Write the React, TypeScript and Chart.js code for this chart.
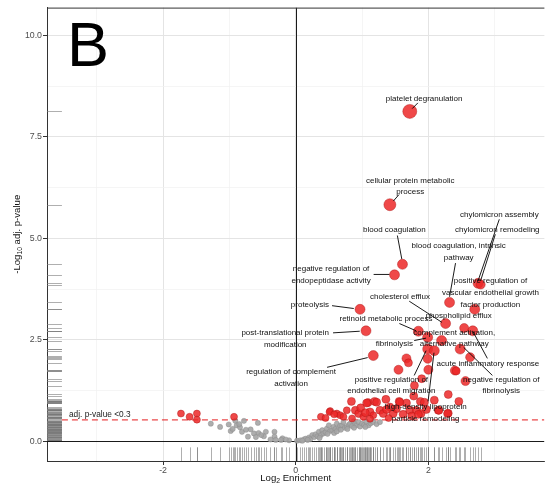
import React, { useEffect, useRef } from "react";
import { Chart, registerables } from "chart.js";

Chart.register(...registerables);

const FONT = "'Liberation Sans', Arial, Helvetica, sans-serif";

// significant GO terms: [log2 enrichment, -log10 adj. p-value, gene count]
const sigPoints: [number, number, number][] = [
  [-1.73, 0.68, 3], [-1.6, 0.6, 3], [-1.49, 0.68, 3], [-1.49, 0.53, 3], [-0.93, 0.6, 3],
  [1.72, 8.13, 10], [1.42, 5.83, 8], [1.61, 4.36, 6], [1.49, 4.1, 6],
  [2.75, 3.89, 6], [2.79, 3.86, 5], [2.32, 3.42, 6], [0.97, 3.25, 6], [2.7, 3.25, 6],
  [2.26, 2.9, 6], [2.54, 2.79, 5], [2.67, 2.72, 6], [1.06, 2.72, 6], [1.85, 2.71, 6],
  [1.99, 2.56, 6], [2.2, 2.48, 6], [2.48, 2.27, 6], [1.99, 2.27, 6], [2.09, 2.23, 6],
  [1.17, 2.11, 6], [2.63, 2.07, 5], [1.67, 2.04, 5], [1.99, 2.03, 5], [1.7, 1.93, 4],
  [1.55, 1.76, 5], [2.0, 1.76, 5], [2.4, 1.74, 5], [2.42, 1.73, 4], [1.9, 1.54, 4],
  [2.56, 1.48, 5], [1.79, 1.37, 4], [2.3, 1.15, 4],
  [0.84, 0.98, 4], [1.09, 0.95, 4], [1.19, 0.98, 4], [1.36, 1.03, 4], [1.78, 1.11, 4],
  [1.56, 0.98, 4], [1.67, 0.94, 4], [1.88, 0.98, 4], [2.46, 0.98, 4], [2.15, 0.76, 4],
  [2.3, 0.69, 4], [0.52, 0.74, 3], [0.38, 0.6, 3], [0.51, 0.72, 3], [0.62, 0.68, 3],
  [0.67, 0.64, 3], [0.9, 0.76, 4], [0.95, 0.68, 4], [1.02, 0.6, 3], [1.07, 0.94, 4],
  [1.12, 0.72, 4], [1.17, 0.64, 3], [1.22, 0.96, 4], [1.27, 0.76, 4], [1.32, 0.68, 4],
  [1.42, 0.84, 4], [1.47, 0.68, 4], [1.57, 0.96, 4], [1.72, 0.76, 4], [1.82, 0.76, 4],
  [1.89, 0.68, 4], [1.94, 0.96, 4], [2.09, 1.01, 4], [2.16, 0.76, 4], [2.29, 0.68, 4],
  [0.77, 0.76, 3], [0.72, 0.6, 3], [0.58, 0.66, 3], [0.45, 0.57, 3], [0.98, 0.82, 4],
  [1.05, 0.7, 4], [1.37, 0.78, 4], [1.52, 0.8, 4], [1.62, 0.66, 4], [1.75, 0.62, 4],
  [1.97, 0.78, 4], [1.4, 0.57, 3], [1.12, 0.55, 3], [0.85, 0.56, 3], [1.85, 0.66, 4],
];

// non-significant GO terms: [log2 enrichment, -log10 adj. p-value]
const nsPoints: [number, number][] = [
  [-1.28, 0.43], [-1.14, 0.35], [-1.01, 0.41], [-0.98, 0.25], [-0.91, 0.5], [-0.89, 0.39],
  [-0.84, 0.34], [-0.78, 0.5], [-0.81, 0.23], [-0.72, 0.11], [-0.68, 0.29], [-0.63, 0.19],
  [-0.57, 0.45], [-0.56, 0.2], [-0.45, 0.23], [-0.48, 0.12], [-0.32, 0.23], [-0.32, 0.11],
  [-0.2, 0.07], [-0.1, 0.02], [0.02, 0.01], [-0.38, 0.04], [-0.3, 0.03], [-0.22, 0.03],
  [-0.15, 0.04], [-0.6, 0.1], [-0.75, 0.28], [-0.95, 0.3], [-0.85, 0.42], [-0.52, 0.15],
  [0.07, 0.02], [0.12, 0.04], [0.15, 0.06], [0.2, 0.09], [0.22, 0.05], [0.25, 0.15],
  [0.28, 0.1], [0.3, 0.17], [0.33, 0.12], [0.35, 0.23], [0.38, 0.15], [0.4, 0.27],
  [0.42, 0.19], [0.45, 0.22], [0.47, 0.31], [0.5, 0.39], [0.52, 0.25], [0.55, 0.27],
  [0.57, 0.35], [0.6, 0.3], [0.62, 0.43], [0.65, 0.31], [0.67, 0.38], [0.7, 0.39],
  [0.72, 0.47], [0.74, 0.33], [0.77, 0.35], [0.8, 0.4], [0.82, 0.43], [0.85, 0.37],
  [0.87, 0.49], [0.9, 0.42], [0.92, 0.39], [0.95, 0.47], [0.97, 0.36], [1.0, 0.43],
  [1.03, 0.4], [1.07, 0.47], [1.1, 0.39], [1.13, 0.44], [1.17, 0.47], [1.22, 0.42],
  [1.27, 0.47], [0.58, 0.2], [0.48, 0.18], [0.36, 0.08], [0.62, 0.24], [0.68, 0.28],
  [0.78, 0.3], [0.88, 0.33], [1.05, 0.35], [0.18, 0.03], [0.1, 0.01],
];

const pThreshold = 0.523; // -log10(0.3)
const thresholdText = "adj. p-value <0.3";
const panelLetter = "B";
const xRange = [-3.75, 3.75];
const yRange = [-0.49, 10.69];

type TermLabel = { text: string[]; x: number; y: number; from?: [number, number]; to?: [number, number] };

const termLabels: TermLabel[] = [
  { text: ["platelet degranulation"], x: 1.936, y: 8.44, from: [1.842, 8.34], to: [1.757, 8.2] },
  { text: ["cellular protein metabolic", "process"], x: 1.727, y: 6.43, from: [1.558, 6.08], to: [1.473, 5.92] },
  { text: ["blood coagulation"], x: 1.488, y: 5.2, from: [1.533, 5.07], to: [1.6, 4.49] },
  { text: ["negative regulation of", "endopeptidase activity"], x: 0.533, y: 4.24, from: [1.175, 4.11], to: [1.413, 4.11] },
  { text: ["chylomicron assembly"], x: 3.07, y: 5.59, from: [3.07, 5.47], to: [2.749, 3.95] },
  { text: ["chylomicron remodeling"], x: 3.04, y: 5.2, from: [3.01, 5.1], to: [2.787, 3.95] },
  { text: ["blood coagulation, intrinsic", "pathway"], x: 2.458, y: 4.81, from: [2.41, 4.39], to: [2.32, 3.56] },
  { text: ["positive regulation of", "vascular endothelial growth", "factor production"], x: 2.936, y: 3.95 },
  { text: ["cholesterol efflux"], x: 1.573, y: 3.57, from: [1.712, 3.45], to: [2.204, 2.93] },
  { text: ["phospholipid efflux"], x: 2.458, y: 3.09 },
  { text: ["retinoid metabolic process"], x: 1.361, y: 3.01, from: [1.563, 2.9], to: [1.816, 2.72] },
  { text: ["complement activation,", "alternative pathway"], x: 2.391, y: 2.68 },
  { text: ["fibrinolysis"], x: 1.488, y: 2.4, from: [1.787, 2.48], to: [1.966, 2.54] },
  { text: ["acute inflammatory response"], x: 2.899, y: 1.91, from: [2.89, 2.04], to: [2.667, 2.72] },
  { text: ["negative regulation of", "fibrinolysis"], x: 3.1, y: 1.52, from: [2.966, 1.62], to: [2.533, 2.31] },
  { text: ["positive regulation of", "endothelial cell migration"], x: 1.443, y: 1.52, from: [1.787, 1.62], to: [1.966, 2.23] },
  { text: ["high-density lipoprotein", "particle remodeling"], x: 1.958, y: 0.84, from: [1.996, 0.98], to: [2.085, 2.18] },
  { text: ["proteolysis"], x: 0.215, y: 3.37, from: [0.548, 3.34], to: [0.876, 3.27] },
  { text: ["post-translational protein", "modification"], x: -0.158, y: 2.67, from: [0.563, 2.67], to: [0.966, 2.71] },
  { text: ["regulation of complement", "activation"], x: -0.069, y: 1.7, from: [0.473, 1.82], to: [1.085, 2.06] },
];

const radiusFor = (n: number) => 2 + n * 0.5;

const isMajorX = (v: number) => Math.abs(v % 2) < 1e-6;
const isMajorY = (v: number) => Math.abs(v % 2.5) < 1e-6;

const volcanoPlugin = {
  id: "volcano",
  beforeDatasetsDraw(chart: any) {
    const { ctx, chartArea: a, scales } = chart;
    const xs = scales.x;
    const ys = scales.y;
    ctx.save();
    ctx.beginPath();
    ctx.rect(a.left, a.top, a.right - a.left, a.bottom - a.top);
    ctx.clip();
    // rugs
    ctx.strokeStyle = "rgba(120,120,120,0.75)";
    ctx.lineWidth = 0.8;
    const all: [number, number][] = [...nsPoints, ...sigPoints.map((p) => [p[0], p[1]] as [number, number])];
    const rugY = (a.right - a.left) * 0.03;
    const rugX = (a.bottom - a.top) * 0.03;
    for (const [vx, vy] of all) {
      const px = Math.round(xs.getPixelForValue(vx)) + 0.5;
      const py = Math.round(ys.getPixelForValue(vy)) + 0.5;
      ctx.beginPath();
      ctx.moveTo(px, a.bottom);
      ctx.lineTo(px, a.bottom - rugX);
      ctx.stroke();
      ctx.beginPath();
      ctx.moveTo(a.left, py);
      ctx.lineTo(a.left + rugY, py);
      ctx.stroke();
    }
    // zero lines
    ctx.strokeStyle = "#1a1a1a";
    ctx.lineWidth = 1;
    const x0 = Math.round(xs.getPixelForValue(0)) + 0.5;
    const y0 = Math.round(ys.getPixelForValue(0)) + 0.5;
    ctx.beginPath();
    ctx.moveTo(x0, a.top);
    ctx.lineTo(x0, a.bottom);
    ctx.stroke();
    ctx.beginPath();
    ctx.moveTo(a.left, y0);
    ctx.lineTo(a.right, y0);
    ctx.stroke();
    // threshold
    const yt = ys.getPixelForValue(pThreshold);
    ctx.strokeStyle = "#e41a1c";
    ctx.lineWidth = 1;
    ctx.setLineDash([6, 4]);
    ctx.beginPath();
    ctx.moveTo(a.left + rugY, yt);
    ctx.lineTo(a.right, yt);
    ctx.stroke();
    ctx.setLineDash([]);
    ctx.restore();
  },
  afterDatasetsDraw(chart: any) {
    const { ctx, chartArea: a, scales } = chart;
    const xs = scales.x;
    const ys = scales.y;
    ctx.save();
    // leader segments
    ctx.strokeStyle = "#000";
    ctx.lineWidth = 0.9;
    for (const l of termLabels) {
      if (!l.from || !l.to) continue;
      ctx.beginPath();
      ctx.moveTo(xs.getPixelForValue(l.from[0]), ys.getPixelForValue(l.from[1]));
      ctx.lineTo(xs.getPixelForValue(l.to[0]), ys.getPixelForValue(l.to[1]));
      ctx.stroke();
    }
    // labels
    ctx.fillStyle = "#111";
    ctx.font = `8px ${FONT}`;
    ctx.textAlign = "center";
    ctx.textBaseline = "middle";
    for (const l of termLabels) {
      const cx = xs.getPixelForValue(l.x);
      const cy = ys.getPixelForValue(l.y);
      l.text.forEach((t, i) => ctx.fillText(t, cx, cy + i * 11.8));
    }
    // threshold annotation
    ctx.fillStyle = "#222";
    ctx.font = `8.3px ${FONT}`;
    ctx.textAlign = "left";
    ctx.textBaseline = "alphabetic";
    ctx.fillText(thresholdText, a.left + 22, ys.getPixelForValue(pThreshold) - 2.5);
    // panel letter
    ctx.fillStyle = "#000";
    ctx.font = `63px ${FONT}`;
    ctx.fillText(panelLetter, a.left + 20, a.top + 58);
    // top border
    ctx.strokeStyle = "#333";
    ctx.lineWidth = 1;
    ctx.beginPath();
    ctx.moveTo(a.left, a.top + 0.5);
    ctx.lineTo(a.right, a.top + 0.5);
    ctx.stroke();
    ctx.restore();
  },
  afterDraw(chart: any) {
    const { ctx, chartArea: a } = chart;
    ctx.save();
    ctx.fillStyle = "#111";
    ctx.textBaseline = "middle";
    const big = `9.6px ${FONT}`;
    const small = `6.8px ${FONT}`;
    // x title: Log2 Enrichment
    const partsX: [string, boolean][] = [["Log", false], ["2", true], [" Enrichment", false]];
    const drawParts = (parts: [string, boolean][], cx: number, cy: number) => {
      let total = 0;
      for (const [t, sub] of parts) {
        ctx.font = sub ? small : big;
        total += ctx.measureText(t).width;
      }
      let x = cx - total / 2;
      ctx.textAlign = "left";
      for (const [t, sub] of parts) {
        ctx.font = sub ? small : big;
        ctx.fillText(t, x, cy + (sub ? 3 : 0));
        x += ctx.measureText(t).width;
      }
    };
    drawParts(partsX, (a.left + a.right) / 2, 478.5);
    // y title: -Log10 adj. p-value
    ctx.translate(17.5, (a.top + a.bottom) / 2);
    ctx.rotate(-Math.PI / 2);
    drawParts([["-Log", false], ["10", true], [" adj. p-value", false]], 0, 0);
    ctx.restore();
  },
};

export default function App() {
  const ref = useRef<HTMLCanvasElement | null>(null);
  useEffect(() => {
    if (!ref.current) return;
    const chart = new Chart(ref.current, {
      type: "scatter",
      data: {
        datasets: [
          {
            label: "significant",
            data: sigPoints.map(([x, y]) => ({ x, y })),
            pointRadius: (c: any) => radiusFor(sigPoints[c.dataIndex]?.[2] ?? 3),
            backgroundColor: "rgba(236,40,40,0.85)",
            borderColor: "rgba(170,20,20,0.7)",
            borderWidth: 0.6,
            order: 0,
          },
          {
            label: "not significant",
            data: nsPoints.map(([x, y]) => ({ x, y })),
            pointRadius: 2.6,
            backgroundColor: "rgba(165,165,165,0.9)",
            borderColor: "rgba(135,135,135,0.8)",
            borderWidth: 0.5,
            order: 1,
          },
        ],
      },
      options: {
        responsive: false,
        animation: false,
        events: [],
        devicePixelRatio: 1,
        layout: { padding: { top: 5, right: 2, left: 0, bottom: 0 } },
        plugins: { legend: { display: false }, tooltip: { enabled: false } },
        scales: {
          x: {
            type: "linear",
            min: xRange[0],
            max: xRange[1],
            afterFit: (s: any) => { s.height = 25; },
            ticks: {
              stepSize: 1,
              includeBounds: false,
              autoSkip: false,
              maxRotation: 0,
              padding: 0,
              color: "#4d4d4d",
              font: { family: FONT, size: 8.8 },
              callback: (v: any) => (isMajorX(Number(v)) ? String(v) : ""),
            },
            grid: {
              color: (c: any) => (c.tick && isMajorX(c.tick.value) ? "#e4e4e4" : "#f1f1f1"),
              lineWidth: (c: any) => (c.tick && isMajorX(c.tick.value) ? 1 : 0.7),
              tickColor: (c: any) => (c.tick && isMajorX(c.tick.value) ? "#333" : "rgba(0,0,0,0)"),
              tickLength: 4,
              tickWidth: 1,
            },
            border: { display: true, color: "#333", width: 1 },
          },
          y: {
            type: "linear",
            min: yRange[0],
            max: yRange[1],
            afterFit: (s: any) => { s.width = 47; },
            ticks: {
              stepSize: 1.25,
              includeBounds: false,
              autoSkip: false,
              padding: 1,
              color: "#4d4d4d",
              font: { family: FONT, size: 8.8 },
              callback: (v: any) => (isMajorY(Number(v)) ? Number(v).toFixed(1) : ""),
            },
            grid: {
              color: (c: any) => (c.tick && isMajorY(c.tick.value) ? "#e4e4e4" : "#f1f1f1"),
              lineWidth: (c: any) => (c.tick && isMajorY(c.tick.value) ? 1 : 0.7),
              tickColor: (c: any) => (c.tick && isMajorY(c.tick.value) ? "#333" : "rgba(0,0,0,0)"),
              tickLength: 4,
              tickWidth: 1,
            },
            border: { display: true, color: "#333", width: 1 },
          },
        },
      },
      plugins: [volcanoPlugin],
    } as any);
    return () => chart.destroy();
  }, []);
  return (
    <div style={{ position: "absolute", left: 0, top: 0, width: 546, height: 486, overflow: "hidden", background: "#fff" }}>
      <canvas ref={ref} width={552} height={486} style={{ width: 552, height: 486, display: "block" }} />
    </div>
  );
}
